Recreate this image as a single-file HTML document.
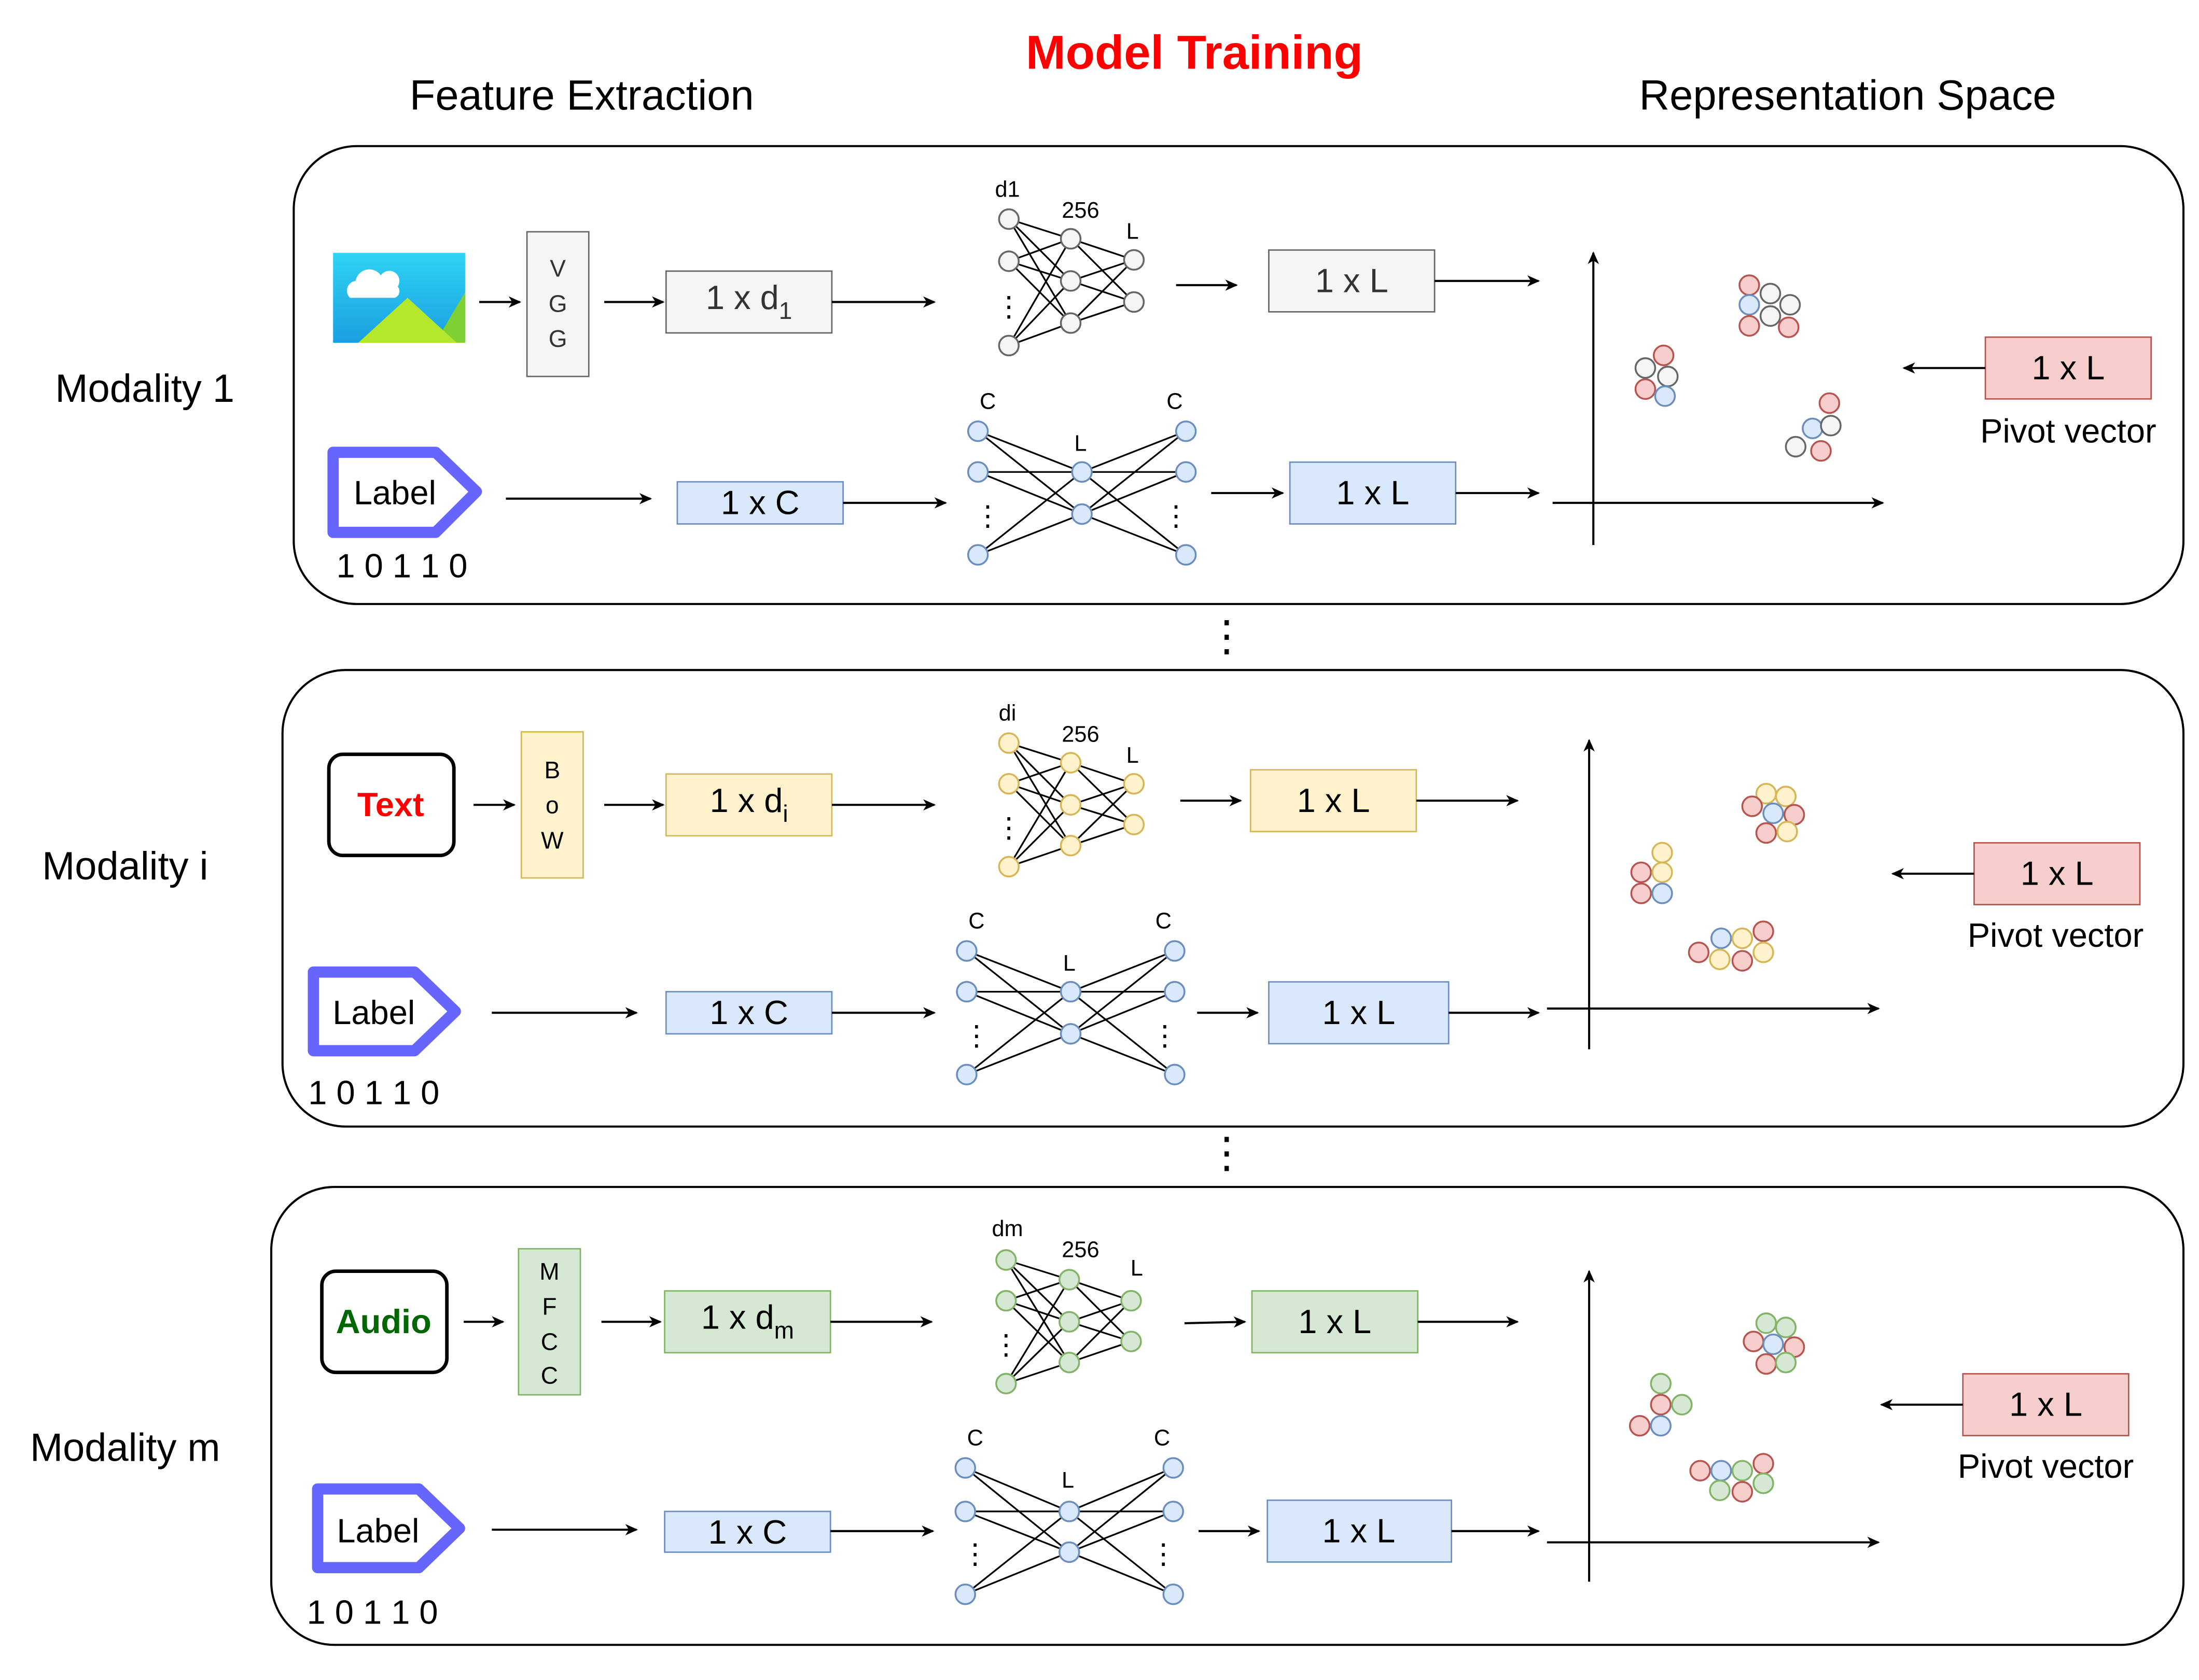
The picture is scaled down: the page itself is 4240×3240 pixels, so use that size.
<!DOCTYPE html>
<html><head><meta charset="utf-8">
<style>
html,body{margin:0;padding:0;background:#fff;}
svg{display:block;}
text{font-family:"Liberation Sans",sans-serif;}
</style></head>
<body>
<svg id="s" width="4240" height="3240" viewBox="0 0 1565 1196" xmlns="http://www.w3.org/2000/svg">
<defs>
<marker id="ar" markerWidth="10" markerHeight="10" refX="8" refY="5" orient="auto" markerUnits="userSpaceOnUse">
<path d="M0,1 L9,5 L0,9 L2.5,5 z" fill="#000"/></marker>
<linearGradient id="sky" x1="0" y1="0" x2="0" y2="1"><stop offset="0" stop-color="#2fd3f3"/><stop offset="1" stop-color="#1a9fe0"/></linearGradient>
</defs>
<rect width="1565" height="1196" fill="#fff"/>
<text x="850" y="49" font-size="34" font-weight="bold" fill="#ff0000" text-anchor="middle">Model Training</text>
<text x="414" y="78" font-size="30" text-anchor="middle">Feature Extraction</text>
<text x="1315" y="78" font-size="30" text-anchor="middle">Representation Space</text>

<rect x="209" y="104" width="1345" height="326" rx="45" fill="none" stroke="#000" stroke-width="1.5"/>
<rect x="201" y="477" width="1353" height="325" rx="45" fill="none" stroke="#000" stroke-width="1.5"/>
<rect x="193" y="845" width="1361" height="326" rx="45" fill="none" stroke="#000" stroke-width="1.5"/>

<text x="103" y="286" font-size="28" text-anchor="middle">Modality 1</text>
<text x="89" y="626" font-size="28" text-anchor="middle">Modality i</text>
<text x="89" y="1040" font-size="28" text-anchor="middle">Modality m</text>
<text x="873" y="463" font-size="30" text-anchor="middle">⋮</text>
<text x="873" y="831" font-size="30" text-anchor="middle">⋮</text>

<!-- image icon -->
<rect x="237" y="180" width="94" height="64" fill="url(#sky)"/>
<path d="M255,244 L290,212 L315,235 L331,208 L331,244 z" fill="#7fd034"/>
<path d="M255,244 L290,212 L325,244 z" fill="#b5e72d"/>
<path d="M249,212 a7,7 0 0 1 4,-12 a10,10 0 0 1 18,-4 a7,7 0 0 1 12,8 a5,5 0 0 1 -2,8 z" fill="#fff"/>

<g id="boxes" font-size="24" text-anchor="middle">
<rect x="375" y="165" width="44" height="103" fill="#f5f5f5" stroke="#666"/>
<text x="397" y="197" font-size="17" fill="#333">V</text><text x="397" y="222" font-size="17" fill="#333">G</text><text x="397" y="247" font-size="17" fill="#333">G</text>
<rect x="474" y="193" width="118" height="44" fill="#f5f5f5" stroke="#666"/>
<text x="533" y="220" fill="#333">1 x d<tspan font-size="17" dy="7">1</tspan></text>
<rect x="903" y="178" width="118" height="44" fill="#f5f5f5" stroke="#666"/>
<text x="962" y="208" fill="#333">1 x L</text>
<rect x="482" y="343" width="118" height="30" fill="#dae8fc" stroke="#6c8ebf"/>
<text x="541" y="366">1 x C</text>
<rect x="918" y="329" width="118" height="44" fill="#dae8fc" stroke="#6c8ebf"/>
<text x="977" y="359">1 x L</text>
<rect x="1413" y="240" width="118" height="44" fill="#f8cecc" stroke="#b85450"/>
<text x="1472" y="270">1 x L</text>
<text x="1472" y="315">Pivot vector</text>

<rect x="234" y="537" width="89" height="72" rx="10" fill="none" stroke="#000" stroke-width="2.5"/>
<text x="278" y="581" fill="#ff0000" font-weight="bold">Text</text>
<rect x="371" y="521" width="44" height="104" fill="#fff2cc" stroke="#d6b656"/>
<text x="393" y="554" font-size="17">B</text><text x="393" y="579" font-size="17">o</text><text x="393" y="604" font-size="17">W</text>
<rect x="474" y="551" width="118" height="44" fill="#fff2cc" stroke="#d6b656"/>
<text x="533" y="578">1 x d<tspan font-size="17" dy="7">i</tspan></text>
<rect x="890" y="548" width="118" height="44" fill="#fff2cc" stroke="#d6b656"/>
<text x="949" y="578">1 x L</text>
<rect x="474" y="706" width="118" height="30" fill="#dae8fc" stroke="#6c8ebf"/>
<text x="533" y="729">1 x C</text>
<rect x="903" y="699" width="128" height="44" fill="#dae8fc" stroke="#6c8ebf"/>
<text x="967" y="729">1 x L</text>
<rect x="1405" y="600" width="118" height="44" fill="#f8cecc" stroke="#b85450"/>
<text x="1464" y="630">1 x L</text>
<text x="1463" y="674">Pivot vector</text>

<rect x="229" y="905" width="89" height="72" rx="10" fill="none" stroke="#000" stroke-width="2.5"/>
<text x="273" y="949" fill="#006600" font-weight="bold">Audio</text>
<rect x="369" y="889" width="44" height="104" fill="#d5e8d4" stroke="#82b366"/>
<text x="391" y="911" font-size="17">M</text><text x="391" y="936" font-size="17">F</text><text x="391" y="961" font-size="17">C</text><text x="391" y="985" font-size="17">C</text>
<rect x="473" y="919" width="118" height="44" fill="#d5e8d4" stroke="#82b366"/>
<text x="532" y="946">1 x d<tspan font-size="17" dy="7">m</tspan></text>
<rect x="891" y="919" width="118" height="44" fill="#d5e8d4" stroke="#82b366"/>
<text x="950" y="949">1 x L</text>
<rect x="473" y="1076" width="118" height="29" fill="#dae8fc" stroke="#6c8ebf"/>
<text x="532" y="1099">1 x C</text>
<rect x="902" y="1068" width="131" height="44" fill="#dae8fc" stroke="#6c8ebf"/>
<text x="967" y="1098">1 x L</text>
<rect x="1397" y="978" width="118" height="44" fill="#f8cecc" stroke="#b85450"/>
<text x="1456" y="1008">1 x L</text>
<text x="1456" y="1052">Pivot vector</text>
</g>

<!-- label tags -->
<g fill="none" stroke="#6666ff" stroke-width="8" stroke-linejoin="round">
<path d="M237,322 H310 L339,350 L310,379 H237 z"/>
<path d="M223,692 H295 L324,720 L295,748 H223 z"/>
<path d="M226,1060 H298 L327,1088 L298,1116 H226 z"/>
</g>
<g font-size="24" text-anchor="middle">
<text x="281" y="359">Label</text>
<text x="266" y="729">Label</text>
<text x="269" y="1098">Label</text>
<text x="286" y="411">1 0 1 1 0</text>
<text x="266" y="786">1 0 1 1 0</text>
<text x="265" y="1156">1 0 1 1 0</text>
</g>

<g font-size="16" text-anchor="middle">
<text x="717" y="140">d1</text><text x="769" y="155">256</text><text x="806" y="170">L</text>
<text x="703" y="291">C</text><text x="769" y="321">L</text><text x="836" y="291">C</text>
<text x="717" y="513">di</text><text x="769" y="528">256</text><text x="806" y="543">L</text>
<text x="695" y="661">C</text><text x="761" y="691">L</text><text x="828" y="661">C</text>
<text x="717" y="880">dm</text><text x="769" y="895">256</text><text x="809" y="908">L</text>
<text x="694" y="1029">C</text><text x="760" y="1059">L</text><text x="827" y="1029">C</text>
</g>

<g id="arrows" stroke="#000" stroke-width="1.5" fill="none" marker-end="url(#ar)">
<line x1="341" y1="215" x2="370" y2="215"/><line x1="430" y1="215" x2="472" y2="215"/>
<line x1="592" y1="215" x2="665" y2="215"/><line x1="837" y1="203" x2="880" y2="203"/>
<line x1="1021" y1="200" x2="1095" y2="200"/>
<line x1="360" y1="355" x2="463" y2="355"/><line x1="600" y1="358" x2="673" y2="358"/>
<line x1="862" y1="351" x2="913" y2="351"/><line x1="1036" y1="351" x2="1095" y2="351"/>
<line x1="1134" y1="388" x2="1134" y2="180"/><line x1="1105" y1="358" x2="1340" y2="358"/>
<line x1="1413" y1="262" x2="1355" y2="262"/>

<line x1="337" y1="573" x2="366" y2="573"/><line x1="430" y1="573" x2="472" y2="573"/>
<line x1="592" y1="573" x2="665" y2="573"/><line x1="840" y1="570" x2="883" y2="570"/>
<line x1="1008" y1="570" x2="1080" y2="570"/>
<line x1="350" y1="721" x2="453" y2="721"/><line x1="592" y1="721" x2="665" y2="721"/>
<line x1="852" y1="721" x2="895" y2="721"/><line x1="1031" y1="721" x2="1095" y2="721"/>
<line x1="1131" y1="747" x2="1131" y2="527"/><line x1="1101" y1="718" x2="1337" y2="718"/>
<line x1="1405" y1="622" x2="1347" y2="622"/>

<line x1="330" y1="941" x2="358" y2="941"/><line x1="428" y1="941" x2="470" y2="941"/>
<line x1="591" y1="941" x2="663" y2="941"/><line x1="843" y1="942" x2="886" y2="941"/>
<line x1="1009" y1="941" x2="1080" y2="941"/>
<line x1="350" y1="1089" x2="453" y2="1089"/><line x1="591" y1="1090" x2="664" y2="1090"/>
<line x1="853" y1="1090" x2="896" y2="1090"/><line x1="1033" y1="1090" x2="1095" y2="1090"/>
<line x1="1131" y1="1126" x2="1131" y2="905"/><line x1="1101" y1="1098" x2="1337" y2="1098"/>
<line x1="1397" y1="1000" x2="1339" y2="1000"/>
</g>
<g id="gen"></g>
</svg>
<script>
var NS="http://www.w3.org/2000/svg",g=document.getElementById("gen");
function el(t,a){var e=document.createElementNS(NS,t);for(var k in a)e.setAttribute(k,a[k]);g.appendChild(e);return e;}
var C={grey:["#f5f5f5","#666"],blue:["#dae8fc","#6c8ebf"],yel:["#fff2cc","#d6b656"],grn:["#d5e8d4","#82b366"],red:["#f8cecc","#b85450"]};
function net(layers,col,r,dots){
  for(var i=0;i<layers.length-1;i++){var A=layers[i],B=layers[i+1];
    A.ys.forEach(function(a){B.ys.forEach(function(b){el("line",{x1:A.x,y1:a,x2:B.x,y2:b,stroke:"#000","stroke-width":1.2});});});}
  layers.forEach(function(L){L.ys.forEach(function(y){el("circle",{cx:L.x,cy:y,r:r,fill:C[col][0],stroke:C[col][1],"stroke-width":1.3});});});
  dots.forEach(function(d){el("text",{x:d[0],y:d[1],"font-size":20,"text-anchor":"middle","font-family":"Liberation Sans"}).textContent="⋮";});
}
net([{x:718,ys:[156,186,246]},{x:762,ys:[170,200,230]},{x:807,ys:[185,215]}],"grey",7,[[718,225]]);
net([{x:696,ys:[307,336,395]},{x:770,ys:[336,366]},{x:844,ys:[307,336,395]}],"blue",7,[[703,374],[837,374]]);
net([{x:718,ys:[529,558,617]},{x:762,ys:[543,573,602]},{x:807,ys:[558,587]}],"yel",7,[[718,596]]);
net([{x:688,ys:[677,706,765]},{x:762,ys:[706,736]},{x:836,ys:[677,706,765]}],"blue",7,[[695,744],[829,744]]);
net([{x:716,ys:[897,926,985]},{x:761,ys:[911,941,970]},{x:805,ys:[926,955]}],"grn",7,[[716,964]]);
net([{x:687,ys:[1045,1076,1135]},{x:761,ys:[1076,1105]},{x:835,ys:[1045,1076,1135]}],"blue",7,[[694,1113],[828,1113]]);
var m={r:"red",g:"grey",b:"blue",y:"yel",G:"grn"};
var pts=[
[1184,253,"r"],[1171,262,"g"],[1187,268,"g"],[1171,277,"r"],[1185,282,"b"],
[1245,203,"r"],[1260,209,"g"],[1274,217,"g"],[1245,217,"b"],[1260,225,"g"],[1245,232,"r"],[1273,233,"r"],
[1302,287,"r"],[1290,305,"b"],[1303,303,"g"],[1278,318,"g"],[1296,321,"r"],
[1183,607,"y"],[1168,621,"r"],[1183,621,"y"],[1168,636,"r"],[1183,636,"b"],
[1257,565,"y"],[1271,567,"y"],[1247,574,"r"],[1262,579,"b"],[1277,580,"r"],[1257,593,"r"],[1272,592,"y"],
[1255,663,"r"],[1225,668,"b"],[1240,668,"y"],[1209,678,"r"],[1255,678,"y"],[1224,683,"y"],[1240,684,"r"],
[1182,985,"G"],[1182,1000,"r"],[1197,1000,"G"],[1167,1015,"r"],[1182,1015,"b"],
[1257,942,"G"],[1271,945,"G"],[1248,955,"r"],[1262,957,"b"],[1277,959,"r"],[1257,971,"r"],[1271,970,"G"],
[1255,1042,"r"],[1210,1047,"r"],[1225,1047,"b"],[1240,1047,"G"],[1255,1056,"G"],[1224,1061,"G"],[1240,1062,"r"]];
pts.forEach(function(p){var c=C[m[p[2]]];el("circle",{cx:p[0],cy:p[1],r:7,fill:c[0],stroke:c[1],"stroke-width":1.3});});
</script>
</body></html>
